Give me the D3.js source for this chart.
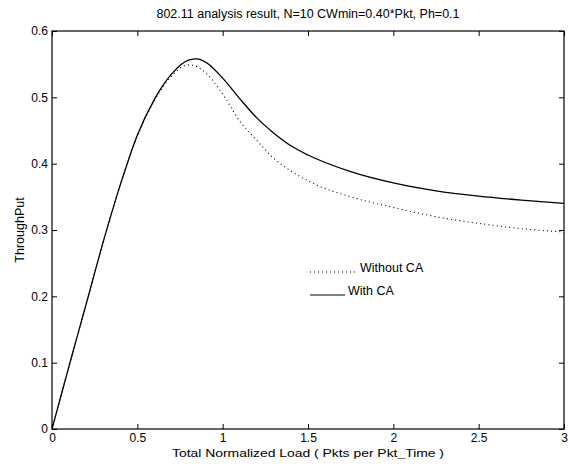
<!DOCTYPE html>
<html>
<head>
<meta charset="utf-8">
<script src="https://cdn.jsdelivr.net/npm/d3@7"></script>
<style>
  body { margin: 0; background: #fff; }
  svg { font-family: "Liberation Sans", Arial, sans-serif; }
</style>
</head>
<body>
<svg id="chart"></svg>
<script>
// offered load (x) values
const loads = [0, 0.1, 0.2, 0.3, 0.4, 0.5, 0.6, 0.7, 0.8, 0.85, 0.9, 1.0, 1.1, 1.2, 1.3, 1.4, 1.5, 1.75, 2.0, 2.25, 2.5, 2.75, 3.0];
const withCA = [0, 0.095, 0.188, 0.282, 0.368, 0.443, 0.497, 0.535, 0.556, 0.558, 0.553, 0.529, 0.498, 0.469, 0.446, 0.427, 0.413, 0.388, 0.371, 0.359, 0.351, 0.345, 0.34];
const withoutCA = [0, 0.095, 0.188, 0.282, 0.368, 0.442, 0.495, 0.532, 0.549, 0.546, 0.537, 0.505, 0.464, 0.435, 0.408, 0.389, 0.374, 0.35, 0.334, 0.32, 0.31, 0.302, 0.297];
const xTicks = [0, 0.5, 1, 1.5, 2, 2.5, 3];
const yTicks = [0, 0.1, 0.2, 0.3, 0.4, 0.5, 0.6];

const width = 572, height = 468;
const margin = { top: 31, right: 8, bottom: 39, left: 52 };

const svg = d3.select("#chart").attr("width", width).attr("height", height);

const x = d3.scaleLinear().domain([0, 3]).range([margin.left, width - margin.right]);
const y = d3.scaleLinear().domain([0, 0.6]).range([height - margin.bottom, margin.top]);

const fmt = d => (d === 0 ? "0" : String(d));

// box
svg.append("rect")
  .attr("x", x(0)).attr("y", y(0.6))
  .attr("width", x(3) - x(0)).attr("height", y(0) - y(0.6))
  .attr("fill", "none").attr("stroke", "#000").attr("stroke-width", 1.2);

// axes with inward ticks, matlab style
const tickLen = 5;
svg.append("g")
  .attr("transform", `translate(0,${y(0)})`)
  .call(d3.axisBottom(x).tickValues(xTicks).tickSizeInner(-tickLen).tickSizeOuter(0).tickPadding(4).tickFormat(fmt))
  .call(g => g.select(".domain").remove())
  .call(g => g.selectAll("text").attr("font-size", 12).attr("fill", "#000"));

svg.append("g")
  .attr("transform", `translate(0,${y(0.6)})`)
  .call(d3.axisTop(x).tickValues(xTicks).tickSizeInner(-tickLen).tickSizeOuter(0).tickFormat(""))
  .call(g => g.select(".domain").remove());

svg.append("g")
  .attr("transform", `translate(${x(0)},0)`)
  .call(d3.axisLeft(y).tickValues(yTicks).tickSizeInner(-tickLen).tickSizeOuter(0).tickPadding(4).tickFormat(fmt))
  .call(g => g.select(".domain").remove())
  .call(g => g.selectAll("text").attr("font-size", 12).attr("fill", "#000"));

svg.append("g")
  .attr("transform", `translate(${x(3)},0)`)
  .call(d3.axisRight(y).tickValues(yTicks).tickSizeInner(-tickLen).tickSizeOuter(0).tickFormat(""))
  .call(g => g.select(".domain").remove());

// curves
const line = d3.line()
  .x((d, i) => x(loads[i]))
  .y(d => y(d))
  .curve(d3.curveMonotoneX);

svg.append("path")
  .datum(withoutCA)
  .attr("d", line)
  .attr("fill", "none").attr("stroke", "#000").attr("stroke-width", 1.1)
  .attr("stroke-dasharray", "1,3.2");

svg.append("path")
  .datum(withCA)
  .attr("d", line)
  .attr("fill", "none").attr("stroke", "#000").attr("stroke-width", 1.3);

// legend
const legend = [
  { label: "Without CA", dash: "1,3", x2: 357, y: 268 },
  { label: "With CA", dash: null, x2: 345, y: 291 }
];
const lg = svg.append("g");
legend.forEach(l => {
  lg.append("line")
    .attr("x1", 310).attr("x2", l.x2).attr("y1", l.y + 4).attr("y2", l.y + 4)
    .attr("stroke", "#000").attr("stroke-width", 1.2)
    .attr("stroke-dasharray", l.dash);
  lg.append("text")
    .attr("x", l.x2 + 3).attr("y", l.y + 4)
    .attr("font-size", 12.5)
    .text(l.label);
});

// title and labels
svg.append("text")
  .attr("x", (x(0) + x(3)) / 2).attr("y", 18)
  .attr("text-anchor", "middle").attr("font-size", 12.5)
  .text("802.11 analysis result, N=10 CWmin=0.40*Pkt, Ph=0.1");

svg.append("text")
  .attr("x", (x(0) + x(3)) / 2).attr("y", 457)
  .attr("text-anchor", "middle").attr("font-size", 11.5)
  .attr("textLength", 272).attr("lengthAdjust", "spacingAndGlyphs")
  .text("Total Normalized Load ( Pkts per Pkt_Time )");

svg.append("text")
  .attr("transform", `translate(24,${(y(0) + y(0.6)) / 2}) rotate(-90)`)
  .attr("text-anchor", "middle").attr("font-size", 12.5)
  .text("ThroughPut");
</script>
</body>
</html>
